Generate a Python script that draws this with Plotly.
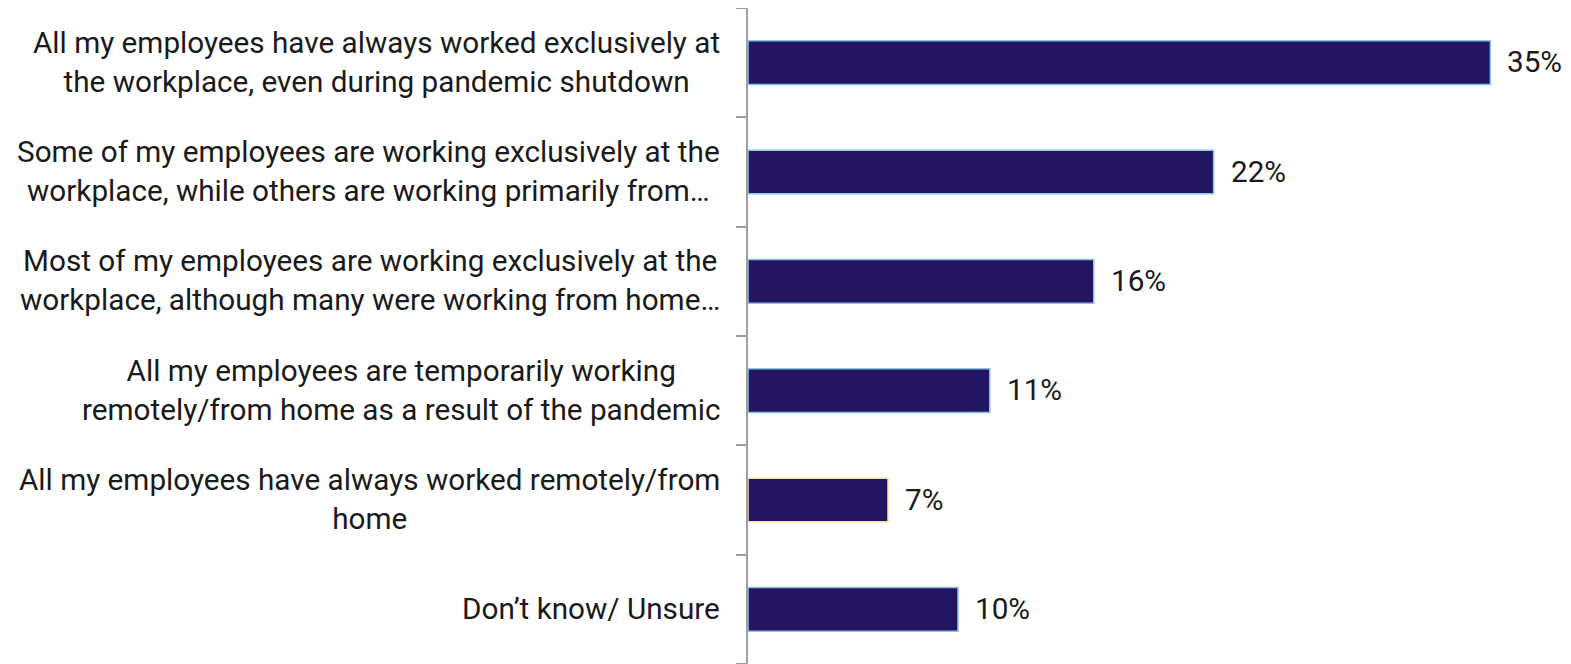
import plotly.graph_objects as go

categories = [
    "All my employees have always worked exclusively at<br>the workplace, even during pandemic shutdown",
    "Some of my employees are working exclusively at the<br>workplace, while others are working primarily from…",
    "Most of my employees are working exclusively at the<br>workplace, although many were working from home…",
    "All my employees are temporarily working<br>remotely/from home as a result of the pandemic",
    "All my employees have always worked remotely/from<br>home",
    "Don’t know/ Unsure",
]
values = [35.0, 21.95, 16.3, 11.4, 6.6, 9.9]
value_labels = ["35%", "22%", "16%", "11%", "7%", "10%"]
border_colors = ["#8CC3DE", "#8CC3DE", "#8CC3DE", "#8CC3DE", "#F6DDB0", "#8CC3DE"]

FONT = "Roboto"
FS = 29.7
ids = list(range(len(categories)))

fig = go.Figure(go.Bar(
    x=values,
    y=ids,
    orientation="h",
    width=0.4,
    marker=dict(color="#231562", line=dict(color=border_colors, width=1.5)),
    hoverinfo="skip",
))

annotations = []
for i, (c, v, t) in enumerate(zip(categories, values, value_labels)):
    annotations.append(dict(
        x=0, xref="paper", y=i, yref="y", text=c, showarrow=False,
        xanchor="right", yanchor="middle", align="center", xshift=-26, yshift=1,
        font=dict(family=FONT, size=FS, color="#1a1a1a"),
    ))
    annotations.append(dict(
        x=v, xref="x", y=i, yref="y", text=t, showarrow=False,
        xanchor="left", yanchor="middle", xshift=15, yshift=1,
        font=dict(family=FONT, size=FS, color="#1a1a1a"),
    ))

fig.update_layout(
    width=1563, height=656,
    margin=dict(l=740, r=0, t=0, b=0),
    paper_bgcolor="white", plot_bgcolor="white",
    showlegend=False,
    xaxis=dict(range=[0, 38.8], visible=False, fixedrange=True),
    yaxis=dict(
        range=[5.5, -0.5],
        tickmode="array", tickvals=[i - 0.5 for i in ids] + [len(ids) - 0.5],
        showticklabels=False,
        ticks="outside", ticklen=10, tickcolor="#A0A0A0", tickwidth=1.5,
        showline=True, linecolor="#A0A0A0", linewidth=2,
        showgrid=False, zeroline=False,
    ),
    annotations=annotations,
)

fig.write_html("out.html")
